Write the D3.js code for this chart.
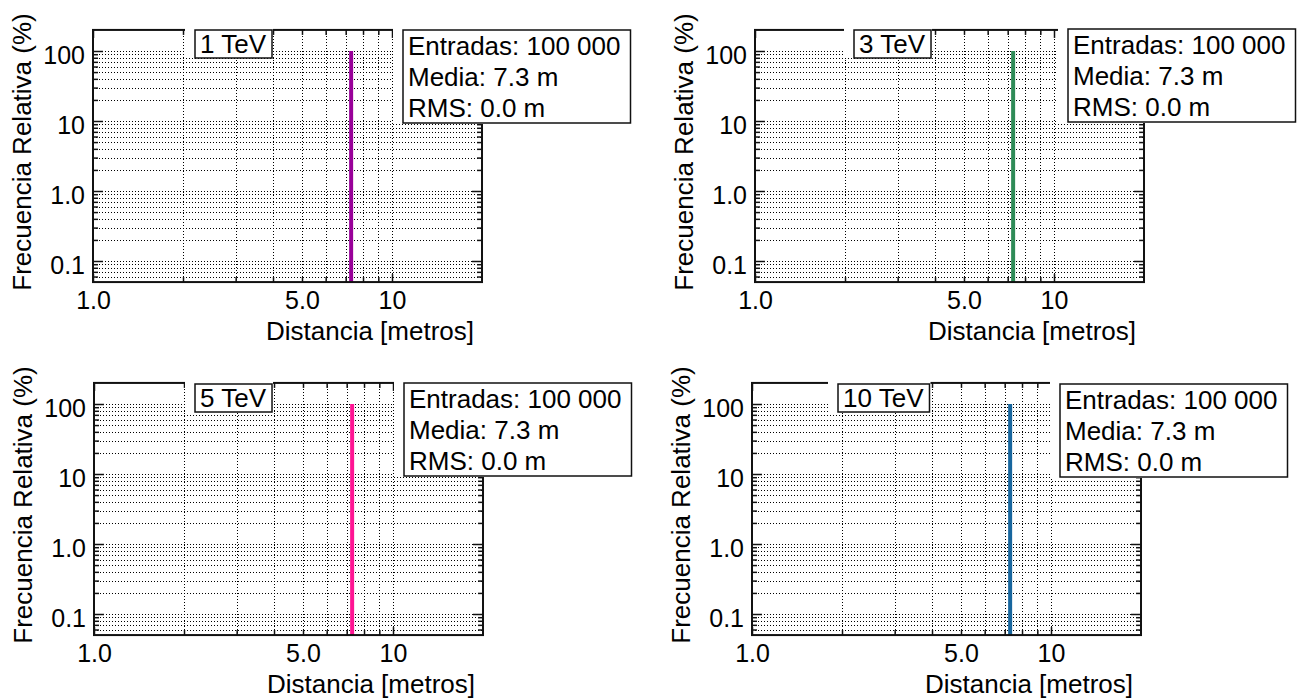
<!DOCTYPE html>
<html>
<head>
<meta charset="utf-8">
<script src="https://cdn.jsdelivr.net/npm/d3@7"></script>
<style>
  body { margin: 0; background: #fff; }
  svg { display: block; }
  text { font-family: "Liberation Sans", Arial, sans-serif; fill: #000; }
</style>
</head>
<body>
<svg id="chart" width="1301" height="700"></svg>
<script>
// ---- Data ----
const energies = ["1 TeV", "3 TeV", "5 TeV", "10 TeV"];
const entries = [100000, 100000, 100000, 100000];
const meanDistance = [7.3, 7.3, 7.3, 7.3];      // metres
const rmsDistance = [0.0, 0.0, 0.0, 0.0];       // metres
const peakFrequency = [100, 100, 100, 100];     // percent in the single bin
const xTickValues = [1, 5, 10];
const xTickLabels = ["1.0", "5.0", "10"];
const yTickValues = [0.1, 1, 10, 100];
const yTickLabels = ["0.1", "1.0", "10", "100"];
const xDomain = [1, 20];
const yDomain = [0.05, 200];

// ---- Styles ----
const lineColors = ["#990099", "#2e8b57", "#ff1493", "#17669e"];
const fontSize = 26;
const tickFontSize = 25;

// ---- Panel placement ----
const layout = [
  { x0: 93,  y100: 51,  labelX: 195, labelY: 30,  statsX: 403,  statsY: 30 },
  { x0: 755, y100: 51,  labelX: 854, labelY: 30,  statsX: 1068, statsY: 29 },
  { x0: 94,  y100: 404, labelX: 195, labelY: 384, statsX: 404,  statsY: 383 },
  { x0: 752, y100: 404, labelX: 838, labelY: 384, statsX: 1060, statsY: 384 }
];
const pxPerDecadeX = 299;
const pxPerDecadeY = 70;

const svg = d3.select("#chart");
const fmtEntries = n => d3.format(",")(n).replace(/,/g, " ");

energies.forEach((energy, i) => {
  const L = layout[i];
  const x = d3.scaleLog().domain(xDomain)
    .range([L.x0, L.x0 + Math.log10(xDomain[1] / xDomain[0]) * pxPerDecadeX]);
  const y = d3.scaleLog().domain(yDomain)
    .range([L.y100 + (2 - Math.log10(yDomain[0])) * pxPerDecadeY,
            L.y100 - (Math.log10(yDomain[1]) - 2) * pxPerDecadeY]);

  const [left, right] = x.range();
  const [bottom, top] = y.range();
  const g = svg.append("g");

  const xAll = x.ticks();
  const yAll = y.ticks();
  const isMajor = v => Math.abs(Math.log10(v) - Math.round(Math.log10(v))) < 1e-9;

  // dotted grid
  const grid = g.append("g").attr("stroke", "#000").attr("stroke-width", 1)
    .attr("stroke-dasharray", "1,2").attr("shape-rendering", "crispEdges");
  grid.selectAll("line.v").data(xAll.filter(v => v > xDomain[0] && v < xDomain[1]))
    .join("line").attr("class", "v")
    .attr("x1", d => Math.round(x(d)) + 0.5).attr("x2", d => Math.round(x(d)) + 0.5)
    .attr("y1", top).attr("y2", bottom);
  grid.selectAll("line.h").data(yAll.filter(v => v > yDomain[0] && v < yDomain[1]))
    .join("line").attr("class", "h")
    .attr("y1", d => Math.round(y(d)) + 0.5).attr("y2", d => Math.round(y(d)) + 0.5)
    .attr("x1", left).attr("x2", right);

  // inward ticks on all four sides (minor short, major long)
  const tickAxis = (axisFn, scale, values, size, tx, ty) => {
    const a = g.append("g").attr("transform", `translate(${tx},${ty})`)
      .call(axisFn(scale).tickValues(values).tickSize(-size).tickFormat(""));
    a.select(".domain").remove();
    a.selectAll("line").attr("stroke", "#111").attr("stroke-width", 1.5);
  };
  const xMinor = xAll.filter(v => !isMajor(v) && v < xDomain[1]);
  const xMajor = xAll.filter(v => isMajor(v));
  const yMinor = yAll.filter(v => !isMajor(v) && v > yDomain[0] && v < yDomain[1]);
  const yMajor = yAll.filter(v => isMajor(v));
  tickAxis(d3.axisBottom, x, xMinor, 5, 0, bottom);
  tickAxis(d3.axisBottom, x, xMajor, 8, 0, bottom);
  tickAxis(d3.axisTop, x, xMinor, 5, 0, top);
  tickAxis(d3.axisTop, x, xMajor, 8, 0, top);
  tickAxis(d3.axisLeft, y, yMinor, 5, left, 0);
  tickAxis(d3.axisLeft, y, yMajor, 10, left, 0);
  tickAxis(d3.axisRight, y, yMinor, 5, right, 0);
  tickAxis(d3.axisRight, y, yMajor, 10, right, 0);

  // tick labels
  const xl = g.append("g").attr("transform", `translate(0,${bottom})`)
    .call(d3.axisBottom(x).tickValues(xTickValues).tickSize(0).tickPadding(9)
      .tickFormat((d, k) => xTickLabels[k]));
  xl.select(".domain").remove();
  xl.selectAll("text").attr("font-size", tickFontSize)
    .attr("font-family", "'Liberation Sans', Arial, sans-serif").attr("fill", "#000");

  const yl = g.append("g").attr("transform", `translate(${left},0)`)
    .call(d3.axisLeft(y).tickValues(yTickValues).tickSize(0).tickPadding(8)
      .tickFormat((d, k) => yTickLabels[k]));
  yl.select(".domain").remove();
  yl.selectAll("text").attr("font-size", tickFontSize).attr("dy", "0.48em")
    .attr("font-family", "'Liberation Sans', Arial, sans-serif").attr("fill", "#000");

  // histogram: single bin at the mean distance
  g.append("line")
    .attr("x1", x(meanDistance[i])).attr("x2", x(meanDistance[i]))
    .attr("y1", y(yDomain[0])).attr("y2", y(peakFrequency[i]))
    .attr("stroke", lineColors[i]).attr("stroke-width", 4);

  // frame
  g.append("rect").attr("x", left).attr("y", top)
    .attr("width", right - left).attr("height", bottom - top)
    .attr("fill", "none").attr("stroke", "#111").attr("stroke-width", 2);

  // axis titles
  g.append("text").attr("x", left + 277).attr("y", bottom + 58)
    .attr("text-anchor", "middle").attr("font-size", fontSize)
    .text("Distancia [metros]");
  g.append("text")
    .attr("transform", `translate(${left - 62},${(top + bottom) / 2 - 4}) rotate(-90)`)
    .attr("text-anchor", "middle").attr("font-size", fontSize)
    .text("Frecuencia Relativa (%)");

  // energy label box
  const lab = g.append("g");
  const labBg = lab.append("rect").attr("fill", "#fff");
  const labBox = lab.append("rect").attr("fill", "#fff").attr("stroke", "#111").attr("stroke-width", 1.5);
  const labText = lab.append("text").attr("x", L.labelX + 5).attr("y", L.labelY + 23)
    .attr("font-size", fontSize).text(energy);
  const lw = labText.node().getComputedTextLength() + 11;
  labBg.attr("x", L.labelX - 10).attr("y", top - 2).attr("width", lw + 11).attr("height", L.labelY + 28 - top + 2);
  labBox.attr("x", L.labelX).attr("y", L.labelY).attr("width", lw).attr("height", 28);

  // statistics box
  const st = g.append("g");
  const stBg = st.append("rect").attr("fill", "#fff");
  const stBox = st.append("rect").attr("fill", "#fff").attr("stroke", "#111").attr("stroke-width", 1.5);
  const lines = [
    `Entradas: ${fmtEntries(entries[i])}`,
    `Media: ${meanDistance[i].toFixed(1)} m`,
    `RMS: ${rmsDistance[i].toFixed(1)} m`
  ];
  let maxW = 0;
  lines.forEach((t, k) => {
    const tx = st.append("text").attr("x", L.statsX + 5).attr("y", L.statsY + 25 + k * 31)
      .attr("font-size", fontSize).text(t);
    maxW = Math.max(maxW, tx.node().getComputedTextLength());
  });
  const sw = maxW + 15, sh = 93;
  stBg.attr("x", L.statsX - 10).attr("y", top - 2).attr("width", sw + 11).attr("height", L.statsY + sh - top + 3);
  stBox.attr("x", L.statsX).attr("y", L.statsY).attr("width", sw).attr("height", sh);
});
</script>
</body>
</html>
